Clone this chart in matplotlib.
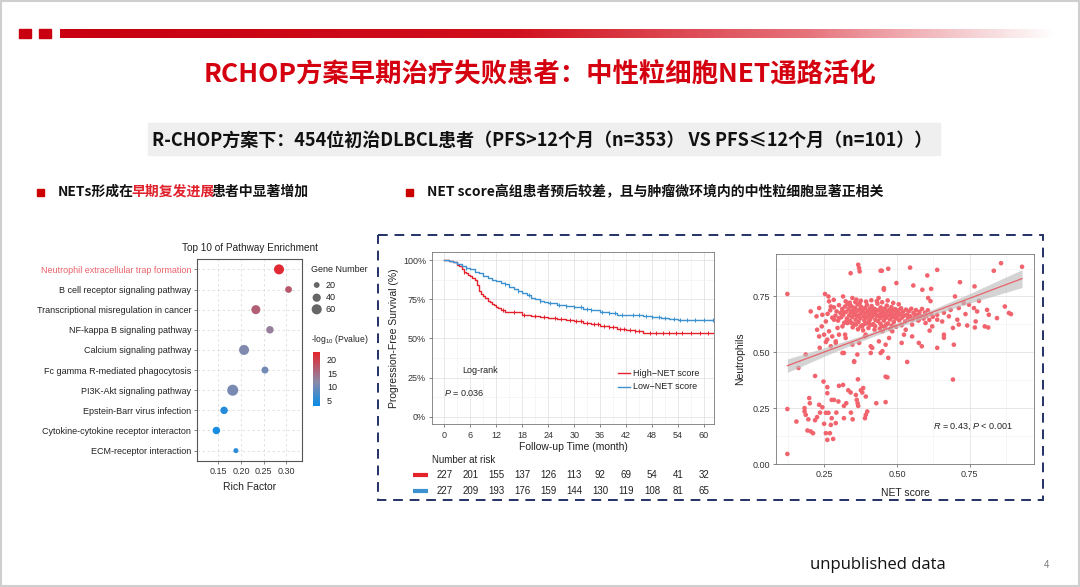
import numpy as np
import matplotlib
matplotlib.use('Agg')
import matplotlib.pyplot as plt
from matplotlib import transforms, font_manager
from matplotlib.colors import LinearSegmentedColormap, Normalize
from matplotlib.patches import Rectangle

plt.rcParams['font.family'] = ['Liberation Sans', 'DejaVu Sans']
plt.rcParams['mathtext.fontset'] = 'custom'
plt.rcParams['mathtext.rm'] = 'Liberation Sans'
plt.rcParams['mathtext.it'] = 'Liberation Sans:italic'

CJK = ['Noto Sans CJK SC', 'DejaVu Sans']
W, H = 1080, 587

# ---------------- data ----------------
title = 'RCHOP方案早期治疗失败患者：中性粒细胞NET通路活化'
subtitle = 'R-CHOP方案下：454位初治DLBCL患者（PFS>12个月（n=353） VS PFS≤12个月（n=101））'
bullet_left = [('NETs形成在', '#111111'), ('早期复发进展', '#E0202A'), ('患者中显著增加', '#111111')]
bullet_right = 'NET score高组患者预后较差，且与肿瘤微环境内的中性粒细胞显著正相关'

# enrichment dot plot (top -> bottom)
pathways = ['Neutrophil extracellular trap formation', 'B cell receptor signaling pathway',
            'Transcriptional misregulation in cancer', 'NF-kappa B signaling pathway',
            'Calcium signaling pathway', 'Fc gamma R-mediated phagocytosis',
            'PI3K-Akt signaling pathway', 'Epstein-Barr virus infection',
            'Cytokine-cytokine receptor interacton', 'ECM-receptor interaction']
rich_factor = [0.284, 0.305, 0.233, 0.264, 0.207, 0.253, 0.182, 0.163, 0.146, 0.189]
gene_number = [59, 27, 48, 33, 59, 29, 72, 33, 33, 15]
neglog_p = [22, 17, 16.5, 13, 11, 10, 10.5, 5, 4, 5.5]
size_legend = [20, 40, 60]
p_ticks = [5, 10, 15, 20]

# Kaplan-Meier
km_time_high = [0, 1, 2, 3, 3.5, 4, 4.5, 5, 5.5, 6, 6.5, 7, 7.5, 8, 8.5, 9, 9.5, 10, 10.5, 11,
                11.5, 12, 12.5, 13, 14, 16, 18, 20, 22, 24, 26, 28, 30, 32, 34, 36, 38, 40, 42, 44, 46]
km_surv_high = [100, 99.5, 98.5, 97, 96, 94, 92.5, 91.5, 90.5, 89.5, 88.5, 87, 84, 80, 78.5, 77, 75.5, 74, 73, 72,
                71, 70.3, 69.2, 68, 67, 66.5, 65, 64, 63.5, 63, 62.3, 61.5, 60.8, 60, 59, 57.8, 57, 56, 55.2, 54.5, 53.2]
km_time_low = [0, 1, 2, 3, 4, 5, 6, 7, 8, 9, 10, 11, 12, 13, 14, 15, 16, 17, 18, 19, 20, 21, 22, 23, 24,
               26, 28, 30, 32, 34, 36, 38, 40, 42, 46, 48, 50, 52, 54]
km_surv_low = [100, 99.5, 98.5, 97.5, 96, 95, 94, 92.5, 91.5, 90, 88.5, 87.5, 86.5, 85.5, 84.5, 83, 81.5, 80, 79, 77.5,
               76, 75, 74, 73.5, 72.5, 71.5, 70.5, 69.8, 68.8, 67.8, 66.8, 66, 65.2, 65, 64.2, 63.5, 63, 62.2, 61.8]
censor_high = [4.5, 13.5, 16, 18.5, 21, 23, 25.5, 27, 29, 30.5, 31.5, 33, 34.5, 35.5, 37, 38, 39, 40.5, 41.5,
               43, 44, 45, 47.5, 49, 50.5, 52, 53.5, 55, 57, 59, 61]
censor_low = [5, 14, 17, 19.5, 22, 24.5, 26.5, 28, 30, 31.5, 33, 34, 36.5, 38, 39.5, 41, 43.5, 45, 46.5,
              48, 49.5, 51, 53, 54.5, 56, 58, 60, 62]
risk_times = [0, 6, 12, 18, 24, 30, 36, 42, 48, 54, 60]
risk_high = [227, 201, 155, 137, 126, 113, 92, 69, 54, 41, 32]
risk_low = [227, 209, 193, 176, 159, 144, 130, 119, 108, 81, 65]

# NET score vs neutrophils
scatter_lower = [
    (0.124, 0.246), (0.124, 0.045), (0.155, 0.190), (0.183, 0.250), (0.183, 0.235), (0.187, 0.220),
    (0.199, 0.295), (0.201, 0.272), (0.193, 0.150), (0.204, 0.146), (0.212, 0.138), (0.196, 0.200),
    (0.219, 0.394), (0.219, 0.196), (0.233, 0.265), (0.244, 0.254), (0.248, 0.369), (0.256, 0.229),
    (0.261, 0.344), (0.261, 0.317), (0.261, 0.108), (0.256, 0.138), (0.270, 0.138), (0.265, 0.229),
    (0.276, 0.205), (0.281, 0.112), (0.273, 0.175), (0.276, 0.287), (0.284, 0.287), (0.290, 0.183),
    (0.292, 0.230), (0.299, 0.280), (0.301, 0.350), (0.315, 0.354), (0.318, 0.260), (0.318, 0.205),
    (0.326, 0.272), (0.342, 0.230), (0.341, 0.320), (0.359, 0.309), (0.362, 0.287), (0.365, 0.272),
    (0.367, 0.260), (0.366, 0.379), (0.381, 0.320), (0.384, 0.340), (0.390, 0.205), (0.393, 0.220),
    (0.398, 0.235), (0.376, 0.330), (0.393, 0.302), (0.429, 0.272), (0.461, 0.391), (0.467, 0.388),
    (0.461, 0.277), (0.236, 0.230), (0.250, 0.180), (0.226, 0.210), (0.333, 0.330), (0.348, 0.200),
]
scatter_left = [
    (0.124, 0.761), (0.204, 0.683), (0.224, 0.661), (0.233, 0.698), (0.253, 0.761), (0.265, 0.750),
    (0.267, 0.728), (0.273, 0.705), (0.283, 0.735), (0.244, 0.668), (0.256, 0.638), (0.242, 0.616),
    (0.233, 0.571), (0.250, 0.579), (0.261, 0.557), (0.267, 0.594), (0.278, 0.571), (0.290, 0.542),
    (0.296, 0.609), (0.284, 0.646), (0.301, 0.653), (0.313, 0.683), (0.315, 0.750), (0.324, 0.728),
    (0.336, 0.713), (0.347, 0.743), (0.341, 0.854), (0.370, 0.877), (0.372, 0.862), (0.367, 0.892),
    (0.355, 0.668), (0.330, 0.631), (0.313, 0.616), (0.322, 0.579), (0.301, 0.579), (0.273, 0.527),
    (0.187, 0.490), (0.162, 0.430), (0.353, 0.460), (0.318, 0.497), (0.410, 0.527), (0.390, 0.571),
    (0.370, 0.542), (0.381, 0.616), (0.404, 0.638), (0.417, 0.624), (0.450, 0.594), (0.415, 0.698),
    (0.437, 0.743), (0.455, 0.787), (0.444, 0.865), (0.361, 0.736), (0.372, 0.720), (0.226, 0.601),
]
scatter_mid = [
    (0.364, 0.490), (0.313, 0.497), (0.415, 0.520), (0.438, 0.549), (0.444, 0.497), (0.410, 0.497),
    (0.470, 0.475), (0.353, 0.457), (0.347, 0.534), (0.324, 0.564), (0.290, 0.549), (0.256, 0.546),
    (0.235, 0.520), (0.393, 0.579),
]
scatter_core = [
    (0.262, 0.672), (0.271, 0.688), (0.278, 0.655), (0.284, 0.701), (0.289, 0.664), (0.293, 0.683),
    (0.298, 0.642), (0.301, 0.711), (0.306, 0.676), (0.309, 0.657), (0.312, 0.694), (0.316, 0.668),
    (0.319, 0.632), (0.322, 0.705), (0.325, 0.681), (0.328, 0.651), (0.331, 0.717), (0.334, 0.693),
    (0.336, 0.665), (0.339, 0.641), (0.341, 0.679), (0.344, 0.706), (0.346, 0.658), (0.349, 0.688),
    (0.351, 0.627), (0.353, 0.671), (0.356, 0.699), (0.358, 0.646), (0.361, 0.683), (0.363, 0.662),
    (0.365, 0.714), (0.368, 0.636), (0.370, 0.691), (0.372, 0.669), (0.374, 0.652), (0.377, 0.704),
    (0.379, 0.678), (0.381, 0.621), (0.383, 0.687), (0.386, 0.661), (0.388, 0.643), (0.390, 0.698),
    (0.392, 0.674), (0.395, 0.655), (0.397, 0.712), (0.399, 0.684), (0.401, 0.632), (0.404, 0.666),
    (0.406, 0.695), (0.408, 0.648), (0.410, 0.677), (0.413, 0.707), (0.415, 0.659), (0.417, 0.688),
    (0.419, 0.626), (0.421, 0.671), (0.424, 0.694), (0.426, 0.645), (0.428, 0.681), (0.430, 0.663),
    (0.433, 0.718), (0.435, 0.639), (0.437, 0.689), (0.439, 0.667), (0.442, 0.653), (0.444, 0.701),
    (0.446, 0.676), (0.448, 0.618), (0.451, 0.685), (0.453, 0.661), (0.455, 0.642), (0.458, 0.696),
    (0.460, 0.672), (0.462, 0.654), (0.465, 0.709), (0.467, 0.683), (0.469, 0.629), (0.472, 0.665),
    (0.474, 0.691), (0.476, 0.647), (0.479, 0.674), (0.481, 0.702), (0.484, 0.657), (0.486, 0.686),
    (0.489, 0.635), (0.491, 0.668), (0.494, 0.693), (0.496, 0.651), (0.499, 0.679), (0.502, 0.661),
    (0.505, 0.688), (0.508, 0.643), (0.511, 0.672), (0.514, 0.697), (0.517, 0.655), (0.521, 0.682),
    (0.524, 0.664), (0.528, 0.638), (0.531, 0.691), (0.535, 0.669), (0.538, 0.652), (0.542, 0.684),
    (0.546, 0.661), (0.549, 0.695), (0.553, 0.647), (0.557, 0.676), (0.561, 0.658), (0.565, 0.689),
    (0.569, 0.667), (0.573, 0.642), (0.577, 0.681), (0.582, 0.663), (0.586, 0.694), (0.591, 0.651),
    (0.596, 0.677), (0.601, 0.662), (0.606, 0.688), (0.611, 0.645), (0.617, 0.671), (0.623, 0.659),
    (0.348, 0.612), (0.366, 0.603), (0.384, 0.598), (0.402, 0.609), (0.423, 0.601), (0.441, 0.606),
    (0.459, 0.611), (0.477, 0.603), (0.497, 0.614), (0.516, 0.621), (0.357, 0.725), (0.376, 0.731),
    (0.394, 0.727), (0.412, 0.733), (0.431, 0.729), (0.449, 0.724), (0.468, 0.732), (0.487, 0.721),
    (0.338, 0.722), (0.506, 0.715), (0.327, 0.639), (0.343, 0.632), (0.359, 0.624), (0.375, 0.616),
    (0.391, 0.628), (0.407, 0.622), (0.425, 0.617), (0.443, 0.628), (0.463, 0.624), (0.482, 0.619),
]
scatter_right = [
    (0.448, 0.865), (0.470, 0.874), (0.545, 0.879), (0.638, 0.869), (0.604, 0.844), (0.716, 0.814),
    (0.832, 0.865), (0.857, 0.899), (0.929, 0.883), (0.498, 0.810), (0.556, 0.799), (0.587, 0.780),
    (0.617, 0.784), (0.766, 0.795), (0.607, 0.743), (0.615, 0.729), (0.699, 0.750), (0.638, 0.668),
    (0.661, 0.677), (0.684, 0.690), (0.712, 0.698), (0.729, 0.720), (0.747, 0.713), (0.735, 0.671),
    (0.764, 0.698), (0.775, 0.683), (0.781, 0.730), (0.809, 0.690), (0.815, 0.668), (0.843, 0.653),
    (0.870, 0.705), (0.884, 0.676), (0.891, 0.671), (0.707, 0.646), (0.712, 0.624), (0.692, 0.609),
    (0.741, 0.620), (0.770, 0.638), (0.767, 0.611), (0.801, 0.616), (0.813, 0.611), (0.678, 0.661),
    (0.655, 0.638), (0.638, 0.646), (0.661, 0.579), (0.661, 0.565), (0.695, 0.534), (0.638, 0.520),
    (0.575, 0.542), (0.585, 0.527), (0.552, 0.571), (0.535, 0.457), (0.516, 0.542), (0.612, 0.597),
    (0.621, 0.616), (0.598, 0.631), (0.575, 0.646), (0.552, 0.624), (0.530, 0.601), (0.524, 0.579),
    (0.484, 0.594), (0.473, 0.564), (0.461, 0.534), (0.450, 0.505), (0.692, 0.378), (0.455, 0.780),
]
# linear fit and 95% band as drawn in the picture
fit_x = [0.124, 0.25, 0.375, 0.5, 0.625, 0.75, 0.929]
fit_y = [0.440, 0.501, 0.561, 0.621, 0.681, 0.742, 0.830]
band_half = [0.030, 0.019, 0.012, 0.010, 0.013, 0.021, 0.040]

# bold CJK face, picked straight from the font list so the weight is kept
bold_cjk = [f.fname for f in font_manager.fontManager.ttflist
            if f.name == 'Noto Sans CJK SC' and f.weight in (700, 'bold')]
if bold_cjk:
    def cjk_bold(size):
        return dict(fontproperties=font_manager.FontProperties(fname=bold_cjk[0], size=size))
else:
    def cjk_bold(size):
        return dict(family=CJK, fontweight='bold', fontsize=size)

# ---------------- figure ----------------
fig = plt.figure(figsize=(W / 100, H / 100), dpi=100)
bg = fig.add_axes([0, 0, 1, 1], zorder=-5)
bg.axis('off')


def px_axes(l, t, r, b):
    return fig.add_axes([l / W, 1 - b / H, (r - l) / W, (b - t) / H])


# header bar
bar_cmap = LinearSegmentedColormap.from_list('bar', [(0, '#C8000F'), (0.45, '#D0101C'), (0.75, '#E6727A'),
                                                     (0.92, '#F6D3D6'), (1, '#FFFFFF')])
bg.imshow(np.linspace(0, 1, 256)[None, :], cmap=bar_cmap, extent=(60, 1056, 38, 29), aspect='auto')
bg.add_patch(Rectangle((19, 29), 12, 9, color='#C8000F'))
bg.add_patch(Rectangle((39, 29), 12, 9, color='#C8000F'))
bg.add_patch(Rectangle((1, 1), W - 2, H - 2, fill=False, ec='#CFCFCF', lw=1.5))
bg.set_xlim(0, W)
bg.set_ylim(H, 0)

bg.text(540, 75, title, ha='center', va='center', color='#D5000F', **cjk_bold(19))
bg.add_patch(Rectangle((148, 123), 792, 32, color='#EFEFEF'))
bg.text(542, 140, subtitle, ha='center', va='center', color='#111111', **cjk_bold(13))

renderer = fig.canvas.get_renderer()
bg.add_patch(Rectangle((37, 188.5), 7, 7, color='#CC0000'))
x = 58
for s, c in bullet_left:
    t = bg.text(x, 192, s, ha='left', va='center', color=c, **cjk_bold(10))
    x = t.get_window_extent(renderer=renderer).x1 - 3
bg.add_patch(Rectangle((406, 188.5), 7, 7, color='#CC0000'))
bg.text(427, 192, bullet_right, ha='left', va='center', color='#111111', **cjk_bold(10))

bg.add_patch(Rectangle((378, 235), 665, 265, fill=False, ec='#233166', lw=1.4, ls=(0, (5, 3.5))))
bg.text(810, 565, 'unpublished data', ha='left', va='center', fontsize=12, family=['Open Sans', 'DejaVu Sans'],
        color='#111111')
bg.text(1046, 565, '4', ha='center', va='center', fontsize=7, color='#777777')

# ---------------- enrichment dot plot ----------------
cmap = LinearSegmentedColormap.from_list('p', [(0, '#0A8DE8'), (0.45, '#8C8AA8'), (1, '#E3262E')])
pnorm = Normalize(3.1, 22.5)
ax = px_axes(197.3, 259.3, 301.7, 460.7)
ypos = np.arange(len(pathways))[::-1]
ax.scatter(rich_factor, ypos, s=np.array(gene_number) * 0.88, c=neglog_p, cmap=cmap, norm=pnorm,
           edgecolors='none', zorder=3)
ax.set_xlim(0.104, 0.334)
ax.set_ylim(-0.5, 9.5)
ax.set_yticks(ypos)
ax.set_yticklabels(pathways, fontsize=6.5)
ax.get_yticklabels()[0].set_color('#E8636B')
for lab in ax.get_yticklabels()[1:]:
    lab.set_color('#222222')
ax.set_xticks([0.15, 0.20, 0.25, 0.30])
ax.set_xticklabels(['0.15', '0.20', '0.25', '0.30'], fontsize=6.5, color='#333333')
ax.grid(True, color='#DDDDDD', lw=0.6, ls=(0, (3, 3)))
ax.set_axisbelow(True)
for sp in ax.spines.values():
    sp.set_color('#555555')
    sp.set_linewidth(0.8)
ax.tick_params(length=2.5, width=0.5, color='#555555', pad=2)
ax.set_title('Top 10 of Pathway Enrichment', fontsize=7.2, pad=6, color='#222222')
ax.set_xlabel('Rich Factor', fontsize=7.5, labelpad=4, color='#222222')

# legends
bg.text(311, 269, 'Gene Number', ha='left', va='center', fontsize=6.5, color='#222222')
for yy, n in zip([285, 297.7, 309.3], size_legend):
    bg.scatter([316.7], [yy], s=n * 0.88, color='#666666', edgecolors='none')
    bg.text(326, yy, str(n), ha='left', va='center', fontsize=6.5, color='#222222')
bg.text(311, 340, '-log$_{10}$ (Pvalue)', ha='left', va='center', fontsize=6.2, color='#222222')
bg.set_xlim(0, W)
bg.set_ylim(H, 0)
cax = px_axes(313.3, 352.3, 320, 406)
cax.imshow(np.linspace(3.1, 22.5, 200)[:, None], cmap=cmap, norm=pnorm, origin='lower',
           extent=(0, 1, 3.1, 22.5), aspect='auto')
cax.set_xticks([])
cax.set_yticks(p_ticks)
cax.yaxis.tick_right()
cax.tick_params(axis='y', length=2, width=0.6, color='white', labelsize=6.5, labelcolor='#222222', pad=3)
for sp in cax.spines.values():
    sp.set_visible(False)

# ---------------- Kaplan-Meier ----------------
red, blue = '#E4222B', '#3C92D0'
ak = px_axes(432.3, 251.7, 714, 424.3)
for tt, ss, cs, col in [(km_time_high, km_surv_high, censor_high, red),
                        (km_time_low, km_surv_low, censor_low, blue)]:
    ak.step(tt + [62.3], ss + [ss[-1]], where='post', color=col, lw=1.0, zorder=3)
    idx = np.searchsorted(tt, cs, side='right') - 1
    ak.plot(cs, np.array(ss)[idx], ls='none', marker='|', ms=3.5, mew=0.7, color=col, zorder=3)
ak.set_xlim(-2.77, 62.3)
ak.set_ylim(-4.85, 105.3)
ak.set_xticks(risk_times)
ak.set_xticks(np.arange(3, 61, 6), minor=True)
ak.set_yticks([0, 25, 50, 75, 100])
ak.set_yticks([12.5, 37.5, 62.5, 87.5], minor=True)
ak.set_yticklabels(['0%', '25%', '50%', '75%', '100%'])
ak.grid(True, which='major', color='#E3E3E3', lw=0.6)
ak.grid(True, which='minor', color='#F0F0F0', lw=0.4)
ak.set_axisbelow(True)
ak.tick_params(which='major', labelsize=6.5, labelcolor='#333333', length=2.5, width=0.5, color='#555555', pad=2)
ak.tick_params(which='minor', length=0)
for sp in ak.spines.values():
    sp.set_color('#777777')
    sp.set_linewidth(0.6)
ak.set_xlabel('Follow-up Time (month)', fontsize=7.5, labelpad=2, color='#222222')
ak.set_ylabel('Progression-Free Survival (%)', fontsize=7.5, labelpad=3, color='#222222')
ak.text(8.25, 29.8, 'Log-rank', ha='center', va='center', fontsize=6.5, color='#222222')
ak.text(4.6, 15, '$\\it{P}$ = 0.036', ha='center', va='center', fontsize=6.5, color='#222222')
ak.plot([40.1, 42.8], [27.6, 27.6], color=red, lw=1.0)
ak.plot([40.1, 42.8], [19.2, 19.2], color=blue, lw=1.0)
ak.text(43.6, 27.6, 'High\u2212NET score', ha='left', va='center', fontsize=6.5, color='#222222')
ak.text(43.6, 19.2, 'Low\u2212NET score', ha='left', va='center', fontsize=6.5, color='#222222')

# number at risk
rtrans = transforms.blended_transform_factory(ak.transData, bg.transData)
bg.text(431.7, 460, 'Number at risk', ha='left', va='center', fontsize=7, color='#222222')
bg.plot([413, 428], [475.3, 475.3], color=red, lw=3, solid_capstyle='butt')
bg.plot([413, 428], [490.7, 490.7], color=blue, lw=3, solid_capstyle='butt')
for t, a, b in zip(risk_times, risk_high, risk_low):
    ak.text(t, 475.3, str(a), transform=rtrans, ha='center', va='center', fontsize=7, color='#222222', clip_on=False)
    ak.text(t, 490.7, str(b), transform=rtrans, ha='center', va='center', fontsize=7, color='#222222', clip_on=False)
bg.set_xlim(0, W)
bg.set_ylim(H, 0)

# ---------------- scatter ----------------
pts = np.array(scatter_lower + scatter_left + scatter_mid + scatter_core + scatter_right)
asc = px_axes(776, 254, 1034, 464)
asc.scatter(pts[:, 0], pts[:, 1], s=11, color='#F2646D', edgecolors='none', zorder=3)
fy, bh = np.array(fit_y), np.array(band_half)
asc.fill_between(fit_x, fy - bh, fy + bh, color='#BDBDBD', alpha=0.65, lw=0, zorder=4)
asc.plot(fit_x, fit_y, color='#E8636B', lw=0.9, zorder=5)
asc.set_xlim(0.085, 0.97)
asc.set_ylim(0.0, 0.94)
asc.set_xticks([0.25, 0.5, 0.75])
asc.set_xticklabels(['0.25', '0.50', '0.75'])
asc.set_xticks([0.125, 0.375, 0.625, 0.875], minor=True)
asc.set_yticks([0, 0.25, 0.5, 0.75])
asc.set_yticklabels(['0.00', '0.25', '0.50', '0.75'])
asc.set_yticks([0.125, 0.375, 0.625, 0.875], minor=True)
asc.grid(True, which='major', color='#E3E3E3', lw=0.6)
asc.grid(True, which='minor', color='#F0F0F0', lw=0.4)
asc.set_axisbelow(True)
asc.tick_params(which='major', labelsize=6.5, labelcolor='#333333', length=2.5, width=0.5, color='#555555', pad=2)
asc.tick_params(which='minor', length=0)
for sp in asc.spines.values():
    sp.set_color('#777777')
    sp.set_linewidth(0.6)
asc.set_xlabel('NET score', fontsize=7.5, labelpad=6, color='#222222')
asc.set_ylabel('Neutrophils', fontsize=7.5, labelpad=5, color='#222222')
asc.text(973, 426.7, '$\\it{R}$ = 0.43, $\\it{P}$ < 0.001', transform=bg.transData, ha='center', va='center',
         fontsize=6.5, color='#222222')

fig.savefig('out.png', dpi=100)
